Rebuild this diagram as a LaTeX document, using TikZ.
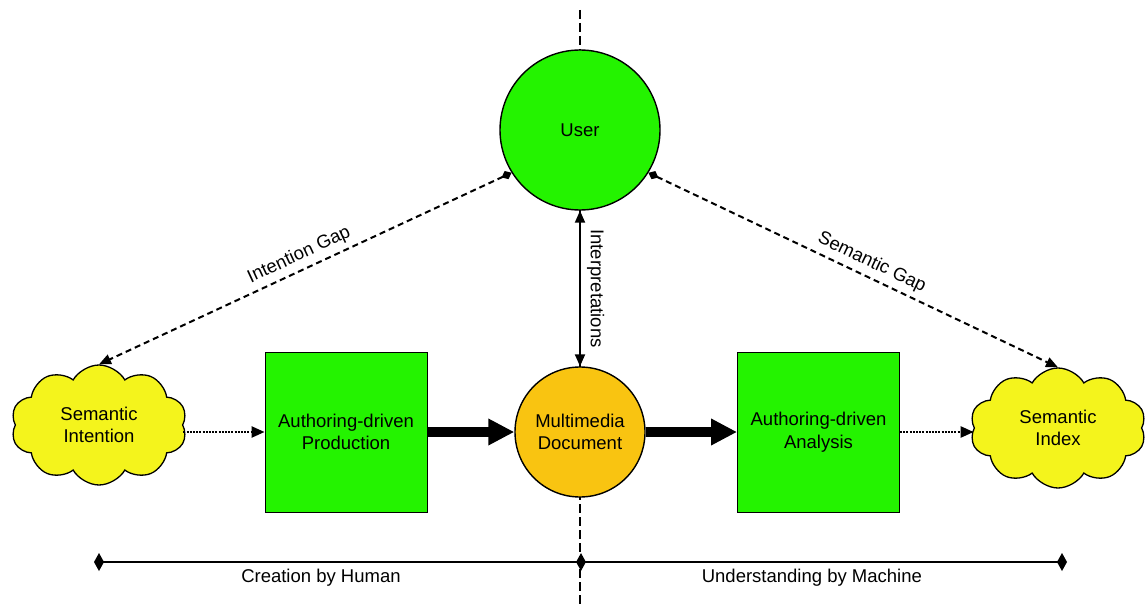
\documentclass[tikz,border=0pt]{standalone}
\usepackage{fontspec}
\setmainfont{Liberation Sans}
\usetikzlibrary{arrows.meta,shapes.symbols,shapes.geometric}
\definecolor{usergreen}{RGB}{36,243,0}
\definecolor{docorange}{RGB}{249,196,17}
\definecolor{cloudyellow}{RGB}{244,244,28}
\begin{document}
\begin{tikzpicture}[x=1pt,y=-1pt,
  every node/.style={font=\fontsize{18.5}{22.5}\selectfont, align=center, inner sep=0pt},
  roundnode/.style={circle, draw, line width=1.4pt},
  boxnode/.style={draw, line width=0.9pt, fill=usergreen, minimum width=162pt, minimum height=160pt},
  cloudnode/.style={cloud, cloud puffs=10, cloud puff arc=120, aspect=1.5, draw,
    line width=1.3pt, fill=cloudyellow, minimum width=176pt, minimum height=120pt},
  divider/.style={line width=2pt, dash pattern=on 9pt off 4pt},
  gapline/.style={line width=2pt, dash pattern=on 6pt off 4pt,
    {Diamond[length=11pt,width=9pt]}-{Triangle[length=12pt,width=10pt]}},
  flow/.style={line width=10pt, -{Triangle[length=26pt,width=25pt]}},
  dotflow/.style={line width=2.4pt, dash pattern=on 2pt off 1.2pt, -{Triangle[length=13pt,width=11pt]}},
  interp/.style={line width=2pt, {Triangle[length=12pt,width=10pt]}-{Triangle[length=12pt,width=10pt]}},
  ruler/.style={line width=2.4pt, {Diamond[length=10pt,width=18pt]}-{Diamond[length=10pt,width=18pt]}},
  rulermark/.style={diamond, fill=black, minimum width=10pt, minimum height=18pt}
]
\useasboundingbox (0,0) rectangle (1145,604);

% vertical divider behind everything
\coordinate (divtop) at (580,10);
\coordinate (divbot) at (580,604);
\draw[divider] (divtop) -- (divbot);

% main nodes
\node[roundnode, fill=usergreen, minimum size=160pt] (user) at (580,130) {User};
\node[roundnode, fill=docorange, minimum size=130pt] (doc) at (580,432) {Multimedia\\Document};
\node[boxnode] (prod) at (346,432) {Authoring-driven\\Production};
\node[boxnode] (anal) at (818.5,432) {Authoring-driven\\Analysis};
\node[cloudnode] (intent) at (99,425) {Semantic\\Intention};
\node[cloudnode] (index) at (1058,428) {Semantic\\Index};

% production / analysis flow
\draw[dotflow] (intent.east |- prod.west) -- (prod.west);
\draw[flow] (prod.east) -- (doc.west);
\draw[flow] (doc.east) -- (anal.west);
\draw[dotflow] (anal.east) -- (anal.east -| index.west);

% interpretations
\draw[interp] (user.south) -- node[midway, rotate=-90, anchor=south, inner sep=6pt] {Interpretations} (doc.north);

% gaps
\draw[gapline] (user.212) -- node[sloped, above=5pt, pos=0.5] {Intention Gap} (intent.north);
\draw[gapline] (user.328) -- node[sloped, above=5pt, pos=0.53] {Semantic Gap} (index.north);

% bottom ruler
\coordinate (sleft) at (94,562);
\coordinate (sright) at (1067,562);
\node[rulermark] (smid) at (581,562) {};
\draw[ruler] (sleft) -- (sright);
\path (sleft) -- node[pos=0.466, below=7pt] {Creation by Human} (smid.center);
\path (smid.center) -- node[pos=0.475, below=7pt] {Understanding by Machine} (sright);
\end{tikzpicture}
\end{document}
